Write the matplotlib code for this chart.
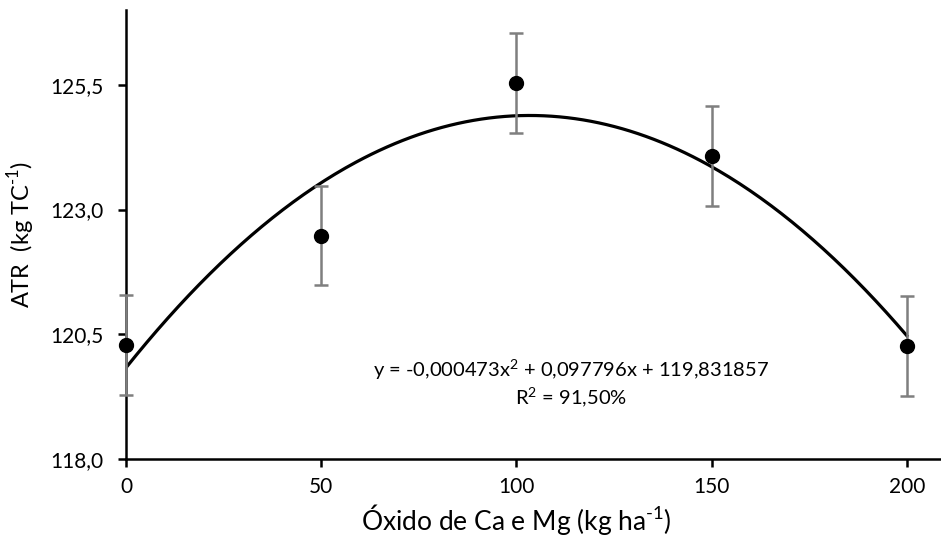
import matplotlib.pyplot as plt
import numpy as np

# doses of Ca and Mg oxide and the ATR means
doses = [0, 50, 100, 150, 200]
atr = [120.28, 122.48, 125.54, 124.08, 120.26]
atr_err = [1.0, 1.0, 1.0, 1.0, 1.0]

# quadratic fit coefficients
coef = [-0.000473, 0.097796, 119.831857]
eq_label = 'y = -0,000473x$^{2}$ + 0,097796x + 119,831857\nR$^{2}$ = 91,50%'

yticks = [118.0, 120.5, 123.0, 125.5]
ytick_labels = ['118,0', '120,5', '123,0', '125,5']
xticks = [0, 50, 100, 150, 200]

plt.rcParams['font.family'] = ['Lato', 'DejaVu Sans']
plt.rcParams['mathtext.fontset'] = 'custom'
plt.rcParams['mathtext.rm'] = 'Lato'

fig = plt.figure(figsize=(9.41, 5.36), dpi=100)
ax = fig.add_axes([0.134, 0.1437, 0.865, 0.8375])

xx = np.linspace(0, 200, 300)
ax.plot(xx, np.polyval(coef, xx), color='black', lw=2.3, zorder=2)

ax.errorbar(doses, atr, yerr=atr_err, fmt='none', ecolor='#7f7f7f',
            elinewidth=1.8, capsize=5, capthick=1.8, zorder=3, clip_on=False)
ax.plot(doses, atr, 'o', color='black', ms=10, zorder=4, clip_on=False)

ax.text(114, 119.52, eq_label, ha='center', va='center', fontsize=14.5,
        linespacing=1.2)

ax.set_xlim(0, 208.5)
ax.set_ylim(118, 127)
ax.set_xticks(xticks)
ax.set_yticks(yticks)
ax.set_yticklabels(ytick_labels)
ax.tick_params(axis='y', direction='out', length=6, width=1.8,
               labelsize=15, pad=10)
ax.tick_params(axis='x', direction='out', length=6, width=1.8,
               labelsize=15, pad=7)

for s in ['top', 'right']:
    ax.spines[s].set_visible(False)
for s in ['left', 'bottom']:
    ax.spines[s].set_linewidth(1.8)
    ax.spines[s].set_zorder(1)

ax.set_xlabel(r'Óxido de Ca e Mg (kg ha$^{\text{-}1}$)', fontsize=19)
ax.xaxis.set_label_coords(0.479, -0.095)
ax.set_ylabel(r'ATR  (kg TC$^{\text{-}1}$)', fontsize=17, labelpad=10)

fig.savefig('out.png', dpi=100)
